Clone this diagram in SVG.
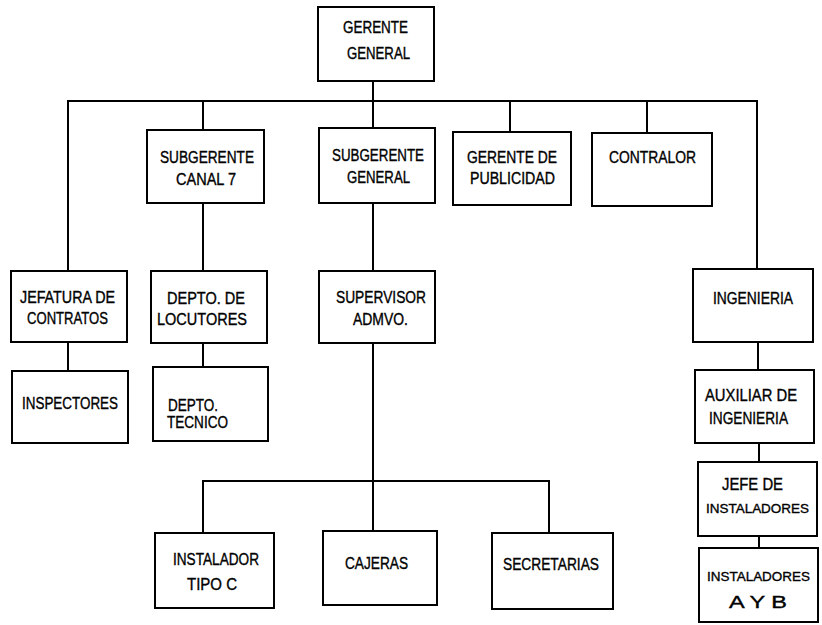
<svg xmlns="http://www.w3.org/2000/svg" width="822" height="625" viewBox="0 0 822 625">
<style>
  .box { fill: #ffffff; stroke: #000000; stroke-width: 2; }
  .ln { fill: none; stroke: #000000; stroke-width: 2; stroke-linecap: square; }
  text { font-family: "Liberation Sans", "DejaVu Sans", sans-serif; font-size: 16px; fill: #000000; stroke: #000000; stroke-width: 0.35; }
  text.sm { font-size: 13.5px; }
</style>
<rect width="822" height="625" fill="#ffffff"/>
<g id="connectors">
  <path class="ln" d="M68 101 H757"/>
  <path class="ln" d="M373 81 V128"/>
  <path class="ln" d="M203 101 V130"/>
  <path class="ln" d="M510 101 V132"/>
  <path class="ln" d="M647 101 V133"/>
  <path class="ln" d="M68 101 V271"/>
  <path class="ln" d="M757 101 V269"/>
  <path class="ln" d="M203 203 V271"/>
  <path class="ln" d="M373 203 V271"/>
  <path class="ln" d="M68 342 V371"/>
  <path class="ln" d="M203 343 V367"/>
  <path class="ln" d="M758 342 V370"/>
  <path class="ln" d="M759 443 V462"/>
  <path class="ln" d="M759 536 V548"/>
  <path class="ln" d="M373 343 V531"/>
  <path class="ln" d="M203 481 H549"/>
  <path class="ln" d="M203 481 V533"/>
  <path class="ln" d="M549 481 V533"/>
</g>
<g id="gerente-general">
  <rect class="box" x="318" y="7" width="116" height="74"/>
  <text x="343" y="33" textLength="65" lengthAdjust="spacingAndGlyphs">GERENTE</text>
  <text x="347" y="59" textLength="63" lengthAdjust="spacingAndGlyphs">GENERAL</text>
</g>
<g id="subgerente-canal7">
  <rect class="box" x="147" y="130" width="117" height="73"/>
  <text x="160" y="163" textLength="94" lengthAdjust="spacingAndGlyphs">SUBGERENTE</text>
  <text x="176" y="185" textLength="60" lengthAdjust="spacingAndGlyphs">CANAL 7</text>
</g>
<g id="subgerente-general">
  <rect class="box" x="319" y="128" width="116" height="75"/>
  <text x="332" y="161" textLength="92" lengthAdjust="spacingAndGlyphs">SUBGERENTE</text>
  <text x="347" y="183" textLength="63" lengthAdjust="spacingAndGlyphs">GENERAL</text>
</g>
<g id="gerente-publicidad">
  <rect class="box" x="453" y="132" width="118" height="73"/>
  <text x="467" y="163" textLength="90" lengthAdjust="spacingAndGlyphs">GERENTE DE</text>
  <text x="470" y="184" textLength="85" lengthAdjust="spacingAndGlyphs">PUBLICIDAD</text>
</g>
<g id="contralor">
  <rect class="box" x="592" y="133" width="120" height="73"/>
  <text x="609" y="163" textLength="87" lengthAdjust="spacingAndGlyphs">CONTRALOR</text>
</g>
<g id="jefatura-contratos">
  <rect class="box" x="11" y="271" width="116" height="71"/>
  <text x="20" y="303" textLength="95" lengthAdjust="spacingAndGlyphs">JEFATURA DE</text>
  <text x="27" y="324" textLength="81" lengthAdjust="spacingAndGlyphs">CONTRATOS</text>
</g>
<g id="depto-locutores">
  <rect class="box" x="151" y="271" width="116" height="72"/>
  <text x="167" y="304" textLength="78" lengthAdjust="spacingAndGlyphs">DEPTO. DE</text>
  <text x="157" y="325" textLength="90" lengthAdjust="spacingAndGlyphs">LOCUTORES</text>
</g>
<g id="supervisor-admvo">
  <rect class="box" x="319" y="271" width="116" height="72"/>
  <text x="336" y="303" textLength="90" lengthAdjust="spacingAndGlyphs">SUPERVISOR</text>
  <text x="353" y="325" textLength="55" lengthAdjust="spacingAndGlyphs">ADMVO.</text>
</g>
<g id="ingenieria">
  <rect class="box" x="693" y="269" width="120" height="73"/>
  <text x="713" y="304" textLength="80" lengthAdjust="spacingAndGlyphs">INGENIERIA</text>
</g>
<g id="inspectores">
  <rect class="box" x="12" y="371" width="116" height="72"/>
  <text x="22" y="409" textLength="96" lengthAdjust="spacingAndGlyphs">INSPECTORES</text>
</g>
<g id="depto-tecnico">
  <rect class="box" x="153" y="367" width="115" height="74"/>
  <text x="168" y="411" textLength="50" lengthAdjust="spacingAndGlyphs">DEPTO.</text>
  <text x="167" y="428" textLength="61" lengthAdjust="spacingAndGlyphs">TECNICO</text>
</g>
<g id="auxiliar-ingenieria">
  <rect class="box" x="695" y="370" width="119" height="73"/>
  <text x="705" y="401" textLength="92" lengthAdjust="spacingAndGlyphs">AUXILIAR DE</text>
  <text x="709" y="424" textLength="79" lengthAdjust="spacingAndGlyphs">INGENIERIA</text>
</g>
<g id="jefe-instaladores">
  <rect class="box" x="698" y="462" width="119" height="74"/>
  <text x="722" y="490" textLength="61" lengthAdjust="spacingAndGlyphs">JEFE DE</text>
  <text class="sm" x="706" y="513" textLength="103" lengthAdjust="spacingAndGlyphs">INSTALADORES</text>
</g>
<g id="instaladores-ayb">
  <rect class="box" x="699" y="548" width="119" height="74"/>
  <text class="sm" x="707" y="581" textLength="103" lengthAdjust="spacingAndGlyphs">INSTALADORES</text>
  <text x="729" y="608" textLength="58" lengthAdjust="spacingAndGlyphs">A Y B</text>
</g>
<g id="instalador-tipo-c">
  <rect class="box" x="155" y="533" width="119" height="75"/>
  <text x="173" y="565" textLength="86" lengthAdjust="spacingAndGlyphs">INSTALADOR</text>
  <text x="187" y="590" textLength="50" lengthAdjust="spacingAndGlyphs">TIPO C</text>
</g>
<g id="cajeras">
  <rect class="box" x="323" y="531" width="114" height="74"/>
  <text x="345" y="569" textLength="63" lengthAdjust="spacingAndGlyphs">CAJERAS</text>
</g>
<g id="secretarias">
  <rect class="box" x="492" y="533" width="121" height="76"/>
  <text x="503" y="570" textLength="96" lengthAdjust="spacingAndGlyphs">SECRETARIAS</text>
</g>
</svg>
